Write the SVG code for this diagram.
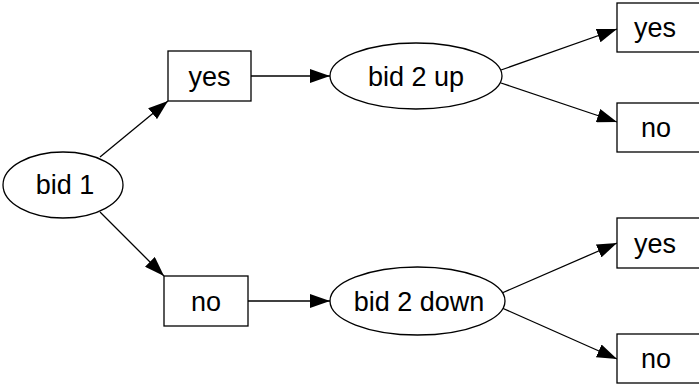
<svg xmlns="http://www.w3.org/2000/svg" width="699" height="385" viewBox="0 0 699 385">
  <style>
    .shape { fill: #ffffff; stroke: #000000; stroke-width: 1.3; }
    .edge { fill: none; stroke: #000000; stroke-width: 1.3; marker-end: url(#arrow); }
    text { font-family: "Liberation Sans", Arial, sans-serif; font-size: 27px; fill: #000000; text-anchor: middle; }
  </style>
  <defs>
    <marker id="arrow" markerUnits="userSpaceOnUse" markerWidth="20" markerHeight="14" refX="20" refY="7" orient="auto" viewBox="0 0 20 14">
      <path d="M0,0 L20,7 L0,14 z" fill="#000000"/>
    </marker>
  </defs>
  <rect width="699" height="385" fill="#ffffff"/>

  <g id="edges">
    <line class="edge" x1="100" y1="157" x2="168" y2="101"/>
    <line class="edge" x1="100" y1="212" x2="164" y2="276"/>
    <line class="edge" x1="251" y1="76" x2="330" y2="76"/>
    <line class="edge" x1="248" y1="301" x2="330" y2="301"/>
    <line class="edge" x1="501" y1="70" x2="617" y2="29"/>
    <line class="edge" x1="501" y1="83" x2="617" y2="122"/>
    <line class="edge" x1="502" y1="293" x2="617" y2="243"/>
    <line class="edge" x1="502" y1="308" x2="617" y2="359"/>
  </g>

  <g id="bid1">
    <ellipse class="shape" cx="63" cy="185" rx="60" ry="33"/>
    <text x="65" y="194">bid 1</text>
  </g>
  <g id="yes1">
    <rect class="shape" x="168" y="51" width="83" height="50"/>
    <text x="209.5" y="85.5">yes</text>
  </g>
  <g id="no1">
    <rect class="shape" x="164" y="276" width="84" height="50"/>
    <text x="206" y="310.5">no</text>
  </g>
  <g id="bid2up">
    <ellipse class="shape" cx="416" cy="76" rx="86" ry="33"/>
    <text x="416" y="85.5">bid 2 up</text>
  </g>
  <g id="bid2down">
    <ellipse class="shape" cx="417.5" cy="301" rx="87.5" ry="34"/>
    <text x="419" y="310.5">bid 2 down</text>
  </g>
  <g id="yes2">
    <rect class="shape" x="617" y="3" width="84" height="49"/>
    <text x="655" y="37">yes</text>
  </g>
  <g id="no2">
    <rect class="shape" x="617" y="103" width="84" height="49"/>
    <text x="656" y="137">no</text>
  </g>
  <g id="yes3">
    <rect class="shape" x="617" y="218" width="84" height="50"/>
    <text x="655" y="252.5">yes</text>
  </g>
  <g id="no3">
    <rect class="shape" x="617" y="334" width="84" height="49"/>
    <text x="656" y="368">no</text>
  </g>
</svg>
